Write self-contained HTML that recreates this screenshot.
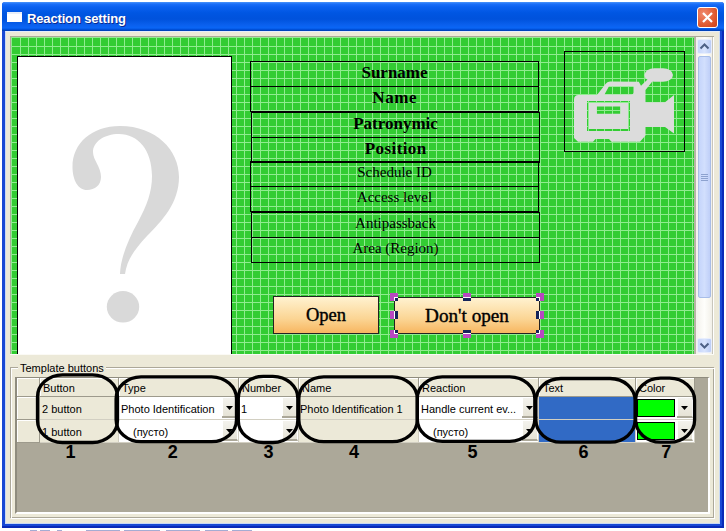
<!DOCTYPE html>
<html><head><meta charset="utf-8">
<style>
*{margin:0;padding:0;box-sizing:border-box}
html,body{width:726px;height:531px;overflow:hidden;background:#fff;position:relative;font-family:"Liberation Sans",sans-serif}
.a{position:absolute}
.ui{font-size:11px;color:#000;white-space:nowrap;line-height:13px}
.lb{font-family:"Liberation Serif",serif;font-weight:bold;font-size:17px;color:#000;white-space:nowrap;text-align:center;line-height:20px}
.lr{font-family:"Liberation Serif",serif;font-size:15px;color:#000;white-space:nowrap;text-align:center;line-height:18px}
.num{font-weight:bold;font-size:18px;color:#000;line-height:18px}
</style></head><body>

<!-- window frame -->
<div class="a" style="left:2px;top:2px;width:722px;height:526px;background:#1848d4;border-radius:3px 3px 0 0"></div>
<div class="a" style="left:722px;top:5px;width:2px;height:523px;background:#0a2ab8"></div>
<div class="a" style="left:2px;top:526px;width:722px;height:2px;background:#0a2ab8"></div>
<!-- title bar -->
<div class="a" style="left:2px;top:2px;width:722px;height:29px;border-radius:3px 3px 0 0;background:linear-gradient(#4a94fa 0px,#1a6ef8 2px,#0a60f0 5px,#0056e2 11px,#0052dc 17px,#0a60ee 23px,#0a66f6 26px,#0050d8 27.5px,#003cac 29px)"></div>
<!-- title icon -->
<div class="a" style="left:7px;top:12px;width:15px;height:10px;background:#fff;border-top:2px solid #e8eef8"></div>
<div class="a" style="left:27px;top:11px;font-weight:bold;font-size:13px;letter-spacing:-0.15px;color:#fff;line-height:16px;text-shadow:1px 1px 0 #0a2a90">Reaction setting</div>
<!-- close button -->
<div class="a" style="left:697px;top:7px;width:21px;height:21px;border:1px solid #fff;border-radius:3px;background:radial-gradient(circle at 30% 30%,#f08a70,#e05a30 60%,#c84018)"></div>
<svg class="a" style="left:697px;top:7px" width="21" height="21"><path d="M6 6L15 15M15 6L6 15" stroke="#fff" stroke-width="2.2"/></svg>

<!-- client area -->
<div class="a" style="left:5px;top:31px;width:715px;height:493px;background:#ece9d8;border:1px solid #c8d8f4;border-top-color:#e4ecfa"></div>

<!-- designer scroll box -->
<div class="a" style="left:10px;top:36px;width:704px;height:318px;border-top:1px solid #aca899;border-left:1px solid #aca899"></div>
<div class="a" style="left:11px;top:37px;width:683px;height:317px;background:#33cc33;border-top:1px solid #90ec90;border-left:1px solid #90ec90"></div>
<div class="a" style="left:13px;top:38px;width:681px;height:316px;background-image:linear-gradient(90deg,#90ec90 1px,transparent 1px);background-size:8px 8px;background-position:7px 0"></div>
<div class="a" style="left:12px;top:39px;width:682px;height:315px;background-image:linear-gradient(#90ec90 1px,transparent 1px);background-size:8px 8px;background-position:0 7px"></div>
<!-- photo -->
<div class="a" style="left:17px;top:56px;width:215px;height:298px;background:#fff;border:1px solid #000;border-bottom:none"></div>
<svg class="a" style="left:0;top:0" width="726" height="531">
<path fill="#d9d9d9" d="M72.5 167 C72.5 143, 92 126, 120 126 C156 126, 179 150, 179 177 C179 203, 162 221, 147 236 C134 250, 127 260, 125 274 L120 274 C120.5 258, 128 240, 138 222 C147 205, 152 192, 152 176 C152 150, 138 134, 119 134 C104 134, 93 142, 93 152 C93 160, 101 167, 101 177 C101 185, 95 190, 87 190 C78 190, 72.5 180, 72.5 167 Z"/>
<ellipse cx="123" cy="306.8" rx="16.2" ry="15.8" fill="#d9d9d9"/>
</svg>
<!-- label boxes -->
<div class="a" style="left:250px;top:61px;width:289px;height:51px;border:1px solid #000"></div>
<div class="a" style="left:250px;top:86px;width:289px;height:1px;background:#000"></div>
<div class="a" style="left:251px;top:112px;width:289px;height:51px;border:1px solid #000"></div>
<div class="a" style="left:251px;top:137px;width:289px;height:1px;background:#000"></div>
<div class="a" style="left:250px;top:161px;width:289px;height:51px;border:1px solid #000"></div>
<div class="a" style="left:250px;top:186px;width:289px;height:1px;background:#000"></div>
<div class="a" style="left:251px;top:212px;width:289px;height:51px;border:1px solid #000"></div>
<div class="a" style="left:251px;top:237px;width:289px;height:1px;background:#000"></div>

<div class="a lb" style="left:250px;top:63px;width:289px">Surname</div>
<div class="a lb" style="left:250px;top:88px;width:289px;letter-spacing:0.6px;text-indent:0.6px">Name</div>
<div class="a lb" style="left:251px;top:114px;width:289px">Patronymic</div>
<div class="a lb" style="left:251px;top:139px;width:289px;letter-spacing:0.4px;text-indent:0.4px">Position</div>
<div class="a lr" style="left:250px;top:163px;width:289px">Schedule ID</div>
<div class="a lr" style="left:250px;top:188px;width:289px">Access level</div>
<div class="a lr" style="left:251px;top:214px;width:289px">Antipassback</div>
<div class="a lr" style="left:251px;top:239px;width:289px">Area (Region)</div>

<!-- camera box -->
<div class="a" style="left:564px;top:51px;width:121px;height:101px;border:1px solid #000"></div>
<svg class="a" style="left:0;top:0" width="726" height="531">
  <path fill="#dcdcdc" fill-rule="evenodd" d="M578.5 95 L597 95 L605.5 84 Q607 81.5 610 81.5 L638.8 81.7 L641 85.8 L647 80 L652.3 80 L652.3 81.5 L646.3 89 L645.5 90 L645.5 102.3 L665 102.3 L674 95 L674 133.5 L665 127 L645.5 127 L645.5 135.5 L640 141.8 L611.5 141.8 L609 139 L595.5 139 L593 141.8 L578 141.8 L574 138 L574 99.5 Q574 95 578.5 95 Z
  M604.5 94.5 L609 86.3 L633.5 86.3 L633.5 92.5 Q633.5 94.5 631.5 94.5 Z
  M587 101 L630 101 L630 131 L587 131 Z M589 103 L589 129 L628 129 L628 103 Z
  M596.8 106.6 L620.4 106.6 L620.4 113.7 L596.8 113.7 Z"/>
  <rect x="644.4" y="68.2" width="28.6" height="13.6" rx="10" ry="6.8" fill="#dcdcdc"/>
</svg>

<!-- buttons -->
<div class="a" style="left:273px;top:296px;width:106px;height:38px;border:1px solid #222;background:linear-gradient(#fff2d0,#fbd594 60%,#f7b660)"></div>
<div class="a" style="left:273px;top:304px;width:106px;text-align:center;font-family:'Liberation Serif',serif;font-size:18.5px;-webkit-text-stroke:0.4px #000;line-height:22px">Open</div>
<div class="a" style="left:394px;top:297px;width:146px;height:37px;border:1px solid #222;background:linear-gradient(#fff2d0,#fbd594 60%,#f7b660)"></div>
<div class="a" style="left:394px;top:305px;width:146px;text-align:center;font-family:'Liberation Serif',serif;font-size:19.2px;-webkit-text-stroke:0.4px #000;line-height:22px">Don't open</div>

<!-- handles -->
<svg class="a" style="left:0;top:0" width="726" height="531">
<rect x="390" y="293" width="8" height="8" fill="#14245a"/>
<rect x="390" y="293" width="1" height="1" fill="#b848c0"/>
<rect x="390" y="294" width="1" height="1" fill="#b848c0"/>
<rect x="390" y="295" width="1" height="1" fill="#b848c0"/>
<rect x="390" y="296" width="1" height="1" fill="#b848c0"/>
<rect x="390" y="297" width="1" height="1" fill="#b848c0"/>
<rect x="390" y="298" width="1" height="1" fill="#b848c0"/>
<rect x="390" y="299" width="1" height="1" fill="#b848c0"/>
<rect x="390" y="300" width="1" height="1" fill="#b848c0"/>
<rect x="391" y="293" width="1" height="1" fill="#b848c0"/>
<rect x="391" y="294" width="1" height="1" fill="#b848c0"/>
<rect x="391" y="295" width="1" height="1" fill="#b848c0"/>
<rect x="391" y="296" width="1" height="1" fill="#b848c0"/>
<rect x="391" y="297" width="1" height="1" fill="#b848c0"/>
<rect x="391" y="298" width="1" height="1" fill="#b848c0"/>
<rect x="391" y="299" width="1" height="1" fill="#b848c0"/>
<rect x="391" y="300" width="1" height="1" fill="#b848c0"/>
<rect x="392" y="293" width="1" height="1" fill="#b848c0"/>
<rect x="392" y="294" width="1" height="1" fill="#b848c0"/>
<rect x="392" y="295" width="1" height="1" fill="#b848c0"/>
<rect x="392" y="296" width="1" height="1" fill="#b848c0"/>
<rect x="392" y="297" width="1" height="1" fill="#b848c0"/>
<rect x="392" y="298" width="1" height="1" fill="#b848c0"/>
<rect x="392" y="299" width="1" height="1" fill="#b848c0"/>
<rect x="392" y="300" width="1" height="1" fill="#b848c0"/>
<rect x="393" y="293" width="1" height="1" fill="#b848c0"/>
<rect x="393" y="294" width="1" height="1" fill="#b848c0"/>
<rect x="393" y="295" width="1" height="1" fill="#b848c0"/>
<rect x="393" y="296" width="1" height="1" fill="#b848c0"/>
<rect x="393" y="297" width="1" height="1" fill="#b848c0"/>
<rect x="393" y="298" width="1" height="1" fill="#b848c0"/>
<rect x="393" y="299" width="1" height="1" fill="#b848c0"/>
<rect x="393" y="300" width="1" height="1" fill="#b848c0"/>
<rect x="394" y="293" width="1" height="1" fill="#b848c0"/>
<rect x="394" y="294" width="1" height="1" fill="#b848c0"/>
<rect x="394" y="295" width="1" height="1" fill="#b848c0"/>
<rect x="394" y="296" width="1" height="1" fill="#b848c0"/>
<rect x="394" y="297" width="1" height="1" fill="#ffffff"/>
<rect x="394" y="298" width="1" height="1" fill="#ffffff"/>
<rect x="394" y="299" width="1" height="1" fill="#ffffff"/>
<rect x="394" y="300" width="1" height="1" fill="#ffffff"/>
<rect x="395" y="293" width="1" height="1" fill="#b848c0"/>
<rect x="395" y="294" width="1" height="1" fill="#b848c0"/>
<rect x="395" y="295" width="1" height="1" fill="#b848c0"/>
<rect x="395" y="296" width="1" height="1" fill="#b848c0"/>
<rect x="395" y="297" width="1" height="1" fill="#ffffff"/>
<rect x="396" y="293" width="1" height="1" fill="#b848c0"/>
<rect x="396" y="294" width="1" height="1" fill="#b848c0"/>
<rect x="396" y="295" width="1" height="1" fill="#b848c0"/>
<rect x="396" y="296" width="1" height="1" fill="#b848c0"/>
<rect x="396" y="297" width="1" height="1" fill="#ffffff"/>
<rect x="397" y="293" width="1" height="1" fill="#b848c0"/>
<rect x="397" y="294" width="1" height="1" fill="#b848c0"/>
<rect x="397" y="295" width="1" height="1" fill="#b848c0"/>
<rect x="397" y="296" width="1" height="1" fill="#b848c0"/>
<rect x="397" y="297" width="1" height="1" fill="#ffffff"/>
<rect x="390" y="311" width="8" height="8" fill="#14245a"/>
<rect x="390" y="311" width="1" height="1" fill="#b848c0"/>
<rect x="390" y="312" width="1" height="1" fill="#b848c0"/>
<rect x="390" y="313" width="1" height="1" fill="#b848c0"/>
<rect x="390" y="314" width="1" height="1" fill="#b848c0"/>
<rect x="390" y="315" width="1" height="1" fill="#b848c0"/>
<rect x="390" y="316" width="1" height="1" fill="#b848c0"/>
<rect x="390" y="317" width="1" height="1" fill="#b848c0"/>
<rect x="390" y="318" width="1" height="1" fill="#b848c0"/>
<rect x="391" y="311" width="1" height="1" fill="#b848c0"/>
<rect x="391" y="312" width="1" height="1" fill="#b848c0"/>
<rect x="391" y="313" width="1" height="1" fill="#b848c0"/>
<rect x="391" y="314" width="1" height="1" fill="#b848c0"/>
<rect x="391" y="315" width="1" height="1" fill="#b848c0"/>
<rect x="391" y="316" width="1" height="1" fill="#b848c0"/>
<rect x="391" y="317" width="1" height="1" fill="#b848c0"/>
<rect x="391" y="318" width="1" height="1" fill="#b848c0"/>
<rect x="392" y="311" width="1" height="1" fill="#b848c0"/>
<rect x="392" y="312" width="1" height="1" fill="#b848c0"/>
<rect x="392" y="313" width="1" height="1" fill="#b848c0"/>
<rect x="392" y="314" width="1" height="1" fill="#b848c0"/>
<rect x="392" y="315" width="1" height="1" fill="#b848c0"/>
<rect x="392" y="316" width="1" height="1" fill="#b848c0"/>
<rect x="392" y="317" width="1" height="1" fill="#b848c0"/>
<rect x="392" y="318" width="1" height="1" fill="#b848c0"/>
<rect x="393" y="311" width="1" height="1" fill="#b848c0"/>
<rect x="393" y="312" width="1" height="1" fill="#b848c0"/>
<rect x="393" y="313" width="1" height="1" fill="#b848c0"/>
<rect x="393" y="314" width="1" height="1" fill="#b848c0"/>
<rect x="393" y="315" width="1" height="1" fill="#b848c0"/>
<rect x="393" y="316" width="1" height="1" fill="#b848c0"/>
<rect x="393" y="317" width="1" height="1" fill="#b848c0"/>
<rect x="393" y="318" width="1" height="1" fill="#b848c0"/>
<rect x="394" y="311" width="1" height="1" fill="#ffffff"/>
<rect x="394" y="312" width="1" height="1" fill="#ffffff"/>
<rect x="394" y="313" width="1" height="1" fill="#ffffff"/>
<rect x="394" y="314" width="1" height="1" fill="#ffffff"/>
<rect x="394" y="315" width="1" height="1" fill="#ffffff"/>
<rect x="394" y="316" width="1" height="1" fill="#ffffff"/>
<rect x="394" y="317" width="1" height="1" fill="#ffffff"/>
<rect x="394" y="318" width="1" height="1" fill="#ffffff"/>
<rect x="390" y="330" width="8" height="8" fill="#14245a"/>
<rect x="390" y="330" width="1" height="1" fill="#b848c0"/>
<rect x="390" y="331" width="1" height="1" fill="#b848c0"/>
<rect x="390" y="332" width="1" height="1" fill="#b848c0"/>
<rect x="390" y="333" width="1" height="1" fill="#b848c0"/>
<rect x="390" y="334" width="1" height="1" fill="#b848c0"/>
<rect x="390" y="335" width="1" height="1" fill="#b848c0"/>
<rect x="390" y="336" width="1" height="1" fill="#b848c0"/>
<rect x="390" y="337" width="1" height="1" fill="#b848c0"/>
<rect x="391" y="330" width="1" height="1" fill="#b848c0"/>
<rect x="391" y="331" width="1" height="1" fill="#b848c0"/>
<rect x="391" y="332" width="1" height="1" fill="#b848c0"/>
<rect x="391" y="333" width="1" height="1" fill="#b848c0"/>
<rect x="391" y="334" width="1" height="1" fill="#b848c0"/>
<rect x="391" y="335" width="1" height="1" fill="#b848c0"/>
<rect x="391" y="336" width="1" height="1" fill="#b848c0"/>
<rect x="391" y="337" width="1" height="1" fill="#b848c0"/>
<rect x="392" y="330" width="1" height="1" fill="#b848c0"/>
<rect x="392" y="331" width="1" height="1" fill="#b848c0"/>
<rect x="392" y="332" width="1" height="1" fill="#b848c0"/>
<rect x="392" y="333" width="1" height="1" fill="#b848c0"/>
<rect x="392" y="334" width="1" height="1" fill="#b848c0"/>
<rect x="392" y="335" width="1" height="1" fill="#b848c0"/>
<rect x="392" y="336" width="1" height="1" fill="#b848c0"/>
<rect x="392" y="337" width="1" height="1" fill="#b848c0"/>
<rect x="393" y="330" width="1" height="1" fill="#b848c0"/>
<rect x="393" y="331" width="1" height="1" fill="#b848c0"/>
<rect x="393" y="332" width="1" height="1" fill="#b848c0"/>
<rect x="393" y="333" width="1" height="1" fill="#b848c0"/>
<rect x="393" y="334" width="1" height="1" fill="#b848c0"/>
<rect x="393" y="335" width="1" height="1" fill="#b848c0"/>
<rect x="393" y="336" width="1" height="1" fill="#b848c0"/>
<rect x="393" y="337" width="1" height="1" fill="#b848c0"/>
<rect x="394" y="330" width="1" height="1" fill="#ffffff"/>
<rect x="394" y="331" width="1" height="1" fill="#ffffff"/>
<rect x="394" y="332" width="1" height="1" fill="#ffffff"/>
<rect x="394" y="333" width="1" height="1" fill="#ffffff"/>
<rect x="394" y="334" width="1" height="1" fill="#b848c0"/>
<rect x="394" y="335" width="1" height="1" fill="#b848c0"/>
<rect x="394" y="336" width="1" height="1" fill="#b848c0"/>
<rect x="394" y="337" width="1" height="1" fill="#b848c0"/>
<rect x="395" y="333" width="1" height="1" fill="#ffffff"/>
<rect x="395" y="334" width="1" height="1" fill="#b848c0"/>
<rect x="395" y="335" width="1" height="1" fill="#b848c0"/>
<rect x="395" y="336" width="1" height="1" fill="#b848c0"/>
<rect x="395" y="337" width="1" height="1" fill="#b848c0"/>
<rect x="396" y="333" width="1" height="1" fill="#ffffff"/>
<rect x="396" y="334" width="1" height="1" fill="#b848c0"/>
<rect x="396" y="335" width="1" height="1" fill="#b848c0"/>
<rect x="396" y="336" width="1" height="1" fill="#b848c0"/>
<rect x="396" y="337" width="1" height="1" fill="#b848c0"/>
<rect x="397" y="333" width="1" height="1" fill="#ffffff"/>
<rect x="397" y="334" width="1" height="1" fill="#b848c0"/>
<rect x="397" y="335" width="1" height="1" fill="#b848c0"/>
<rect x="397" y="336" width="1" height="1" fill="#b848c0"/>
<rect x="397" y="337" width="1" height="1" fill="#b848c0"/>
<rect x="463" y="293" width="8" height="8" fill="#14245a"/>
<rect x="463" y="293" width="1" height="1" fill="#b848c0"/>
<rect x="463" y="294" width="1" height="1" fill="#b848c0"/>
<rect x="463" y="295" width="1" height="1" fill="#b848c0"/>
<rect x="463" y="296" width="1" height="1" fill="#b848c0"/>
<rect x="463" y="297" width="1" height="1" fill="#ffffff"/>
<rect x="464" y="293" width="1" height="1" fill="#b848c0"/>
<rect x="464" y="294" width="1" height="1" fill="#b848c0"/>
<rect x="464" y="295" width="1" height="1" fill="#b848c0"/>
<rect x="464" y="296" width="1" height="1" fill="#b848c0"/>
<rect x="464" y="297" width="1" height="1" fill="#ffffff"/>
<rect x="465" y="293" width="1" height="1" fill="#b848c0"/>
<rect x="465" y="294" width="1" height="1" fill="#b848c0"/>
<rect x="465" y="295" width="1" height="1" fill="#b848c0"/>
<rect x="465" y="296" width="1" height="1" fill="#b848c0"/>
<rect x="465" y="297" width="1" height="1" fill="#ffffff"/>
<rect x="466" y="293" width="1" height="1" fill="#b848c0"/>
<rect x="466" y="294" width="1" height="1" fill="#b848c0"/>
<rect x="466" y="295" width="1" height="1" fill="#b848c0"/>
<rect x="466" y="296" width="1" height="1" fill="#b848c0"/>
<rect x="466" y="297" width="1" height="1" fill="#ffffff"/>
<rect x="467" y="293" width="1" height="1" fill="#b848c0"/>
<rect x="467" y="294" width="1" height="1" fill="#b848c0"/>
<rect x="467" y="295" width="1" height="1" fill="#b848c0"/>
<rect x="467" y="296" width="1" height="1" fill="#b848c0"/>
<rect x="467" y="297" width="1" height="1" fill="#ffffff"/>
<rect x="468" y="293" width="1" height="1" fill="#b848c0"/>
<rect x="468" y="294" width="1" height="1" fill="#b848c0"/>
<rect x="468" y="295" width="1" height="1" fill="#b848c0"/>
<rect x="468" y="296" width="1" height="1" fill="#b848c0"/>
<rect x="468" y="297" width="1" height="1" fill="#ffffff"/>
<rect x="469" y="293" width="1" height="1" fill="#b848c0"/>
<rect x="469" y="294" width="1" height="1" fill="#b848c0"/>
<rect x="469" y="295" width="1" height="1" fill="#b848c0"/>
<rect x="469" y="296" width="1" height="1" fill="#b848c0"/>
<rect x="469" y="297" width="1" height="1" fill="#ffffff"/>
<rect x="470" y="293" width="1" height="1" fill="#b848c0"/>
<rect x="470" y="294" width="1" height="1" fill="#b848c0"/>
<rect x="470" y="295" width="1" height="1" fill="#b848c0"/>
<rect x="470" y="296" width="1" height="1" fill="#b848c0"/>
<rect x="470" y="297" width="1" height="1" fill="#ffffff"/>
<rect x="463" y="330" width="8" height="8" fill="#14245a"/>
<rect x="463" y="333" width="1" height="1" fill="#ffffff"/>
<rect x="463" y="334" width="1" height="1" fill="#b848c0"/>
<rect x="463" y="335" width="1" height="1" fill="#b848c0"/>
<rect x="463" y="336" width="1" height="1" fill="#b848c0"/>
<rect x="463" y="337" width="1" height="1" fill="#b848c0"/>
<rect x="464" y="333" width="1" height="1" fill="#ffffff"/>
<rect x="464" y="334" width="1" height="1" fill="#b848c0"/>
<rect x="464" y="335" width="1" height="1" fill="#b848c0"/>
<rect x="464" y="336" width="1" height="1" fill="#b848c0"/>
<rect x="464" y="337" width="1" height="1" fill="#b848c0"/>
<rect x="465" y="333" width="1" height="1" fill="#ffffff"/>
<rect x="465" y="334" width="1" height="1" fill="#b848c0"/>
<rect x="465" y="335" width="1" height="1" fill="#b848c0"/>
<rect x="465" y="336" width="1" height="1" fill="#b848c0"/>
<rect x="465" y="337" width="1" height="1" fill="#b848c0"/>
<rect x="466" y="333" width="1" height="1" fill="#ffffff"/>
<rect x="466" y="334" width="1" height="1" fill="#b848c0"/>
<rect x="466" y="335" width="1" height="1" fill="#b848c0"/>
<rect x="466" y="336" width="1" height="1" fill="#b848c0"/>
<rect x="466" y="337" width="1" height="1" fill="#b848c0"/>
<rect x="467" y="333" width="1" height="1" fill="#ffffff"/>
<rect x="467" y="334" width="1" height="1" fill="#b848c0"/>
<rect x="467" y="335" width="1" height="1" fill="#b848c0"/>
<rect x="467" y="336" width="1" height="1" fill="#b848c0"/>
<rect x="467" y="337" width="1" height="1" fill="#b848c0"/>
<rect x="468" y="333" width="1" height="1" fill="#ffffff"/>
<rect x="468" y="334" width="1" height="1" fill="#b848c0"/>
<rect x="468" y="335" width="1" height="1" fill="#b848c0"/>
<rect x="468" y="336" width="1" height="1" fill="#b848c0"/>
<rect x="468" y="337" width="1" height="1" fill="#b848c0"/>
<rect x="469" y="333" width="1" height="1" fill="#ffffff"/>
<rect x="469" y="334" width="1" height="1" fill="#b848c0"/>
<rect x="469" y="335" width="1" height="1" fill="#b848c0"/>
<rect x="469" y="336" width="1" height="1" fill="#b848c0"/>
<rect x="469" y="337" width="1" height="1" fill="#b848c0"/>
<rect x="470" y="333" width="1" height="1" fill="#ffffff"/>
<rect x="470" y="334" width="1" height="1" fill="#b848c0"/>
<rect x="470" y="335" width="1" height="1" fill="#b848c0"/>
<rect x="470" y="336" width="1" height="1" fill="#b848c0"/>
<rect x="470" y="337" width="1" height="1" fill="#b848c0"/>
<rect x="536" y="293" width="8" height="8" fill="#14245a"/>
<rect x="536" y="293" width="1" height="1" fill="#b848c0"/>
<rect x="536" y="294" width="1" height="1" fill="#b848c0"/>
<rect x="536" y="295" width="1" height="1" fill="#b848c0"/>
<rect x="536" y="296" width="1" height="1" fill="#b848c0"/>
<rect x="536" y="297" width="1" height="1" fill="#ffffff"/>
<rect x="537" y="293" width="1" height="1" fill="#b848c0"/>
<rect x="537" y="294" width="1" height="1" fill="#b848c0"/>
<rect x="537" y="295" width="1" height="1" fill="#b848c0"/>
<rect x="537" y="296" width="1" height="1" fill="#b848c0"/>
<rect x="537" y="297" width="1" height="1" fill="#ffffff"/>
<rect x="538" y="293" width="1" height="1" fill="#b848c0"/>
<rect x="538" y="294" width="1" height="1" fill="#b848c0"/>
<rect x="538" y="295" width="1" height="1" fill="#b848c0"/>
<rect x="538" y="296" width="1" height="1" fill="#b848c0"/>
<rect x="538" y="297" width="1" height="1" fill="#ffffff"/>
<rect x="539" y="293" width="1" height="1" fill="#b848c0"/>
<rect x="539" y="294" width="1" height="1" fill="#b848c0"/>
<rect x="539" y="295" width="1" height="1" fill="#b848c0"/>
<rect x="539" y="296" width="1" height="1" fill="#b848c0"/>
<rect x="539" y="297" width="1" height="1" fill="#ffffff"/>
<rect x="539" y="298" width="1" height="1" fill="#ffffff"/>
<rect x="539" y="299" width="1" height="1" fill="#ffffff"/>
<rect x="539" y="300" width="1" height="1" fill="#ffffff"/>
<rect x="540" y="293" width="1" height="1" fill="#b848c0"/>
<rect x="540" y="294" width="1" height="1" fill="#b848c0"/>
<rect x="540" y="295" width="1" height="1" fill="#b848c0"/>
<rect x="540" y="296" width="1" height="1" fill="#b848c0"/>
<rect x="540" y="297" width="1" height="1" fill="#b848c0"/>
<rect x="540" y="298" width="1" height="1" fill="#b848c0"/>
<rect x="540" y="299" width="1" height="1" fill="#b848c0"/>
<rect x="540" y="300" width="1" height="1" fill="#b848c0"/>
<rect x="541" y="293" width="1" height="1" fill="#b848c0"/>
<rect x="541" y="294" width="1" height="1" fill="#b848c0"/>
<rect x="541" y="295" width="1" height="1" fill="#b848c0"/>
<rect x="541" y="296" width="1" height="1" fill="#b848c0"/>
<rect x="541" y="297" width="1" height="1" fill="#b848c0"/>
<rect x="541" y="298" width="1" height="1" fill="#b848c0"/>
<rect x="541" y="299" width="1" height="1" fill="#b848c0"/>
<rect x="541" y="300" width="1" height="1" fill="#b848c0"/>
<rect x="542" y="293" width="1" height="1" fill="#b848c0"/>
<rect x="542" y="294" width="1" height="1" fill="#b848c0"/>
<rect x="542" y="295" width="1" height="1" fill="#b848c0"/>
<rect x="542" y="296" width="1" height="1" fill="#b848c0"/>
<rect x="542" y="297" width="1" height="1" fill="#b848c0"/>
<rect x="542" y="298" width="1" height="1" fill="#b848c0"/>
<rect x="542" y="299" width="1" height="1" fill="#b848c0"/>
<rect x="542" y="300" width="1" height="1" fill="#b848c0"/>
<rect x="543" y="293" width="1" height="1" fill="#b848c0"/>
<rect x="543" y="294" width="1" height="1" fill="#b848c0"/>
<rect x="543" y="295" width="1" height="1" fill="#b848c0"/>
<rect x="543" y="296" width="1" height="1" fill="#b848c0"/>
<rect x="543" y="297" width="1" height="1" fill="#b848c0"/>
<rect x="543" y="298" width="1" height="1" fill="#b848c0"/>
<rect x="543" y="299" width="1" height="1" fill="#b848c0"/>
<rect x="543" y="300" width="1" height="1" fill="#b848c0"/>
<rect x="536" y="311" width="8" height="8" fill="#14245a"/>
<rect x="539" y="311" width="1" height="1" fill="#ffffff"/>
<rect x="539" y="312" width="1" height="1" fill="#ffffff"/>
<rect x="539" y="313" width="1" height="1" fill="#ffffff"/>
<rect x="539" y="314" width="1" height="1" fill="#ffffff"/>
<rect x="539" y="315" width="1" height="1" fill="#ffffff"/>
<rect x="539" y="316" width="1" height="1" fill="#ffffff"/>
<rect x="539" y="317" width="1" height="1" fill="#ffffff"/>
<rect x="539" y="318" width="1" height="1" fill="#ffffff"/>
<rect x="540" y="311" width="1" height="1" fill="#b848c0"/>
<rect x="540" y="312" width="1" height="1" fill="#b848c0"/>
<rect x="540" y="313" width="1" height="1" fill="#b848c0"/>
<rect x="540" y="314" width="1" height="1" fill="#b848c0"/>
<rect x="540" y="315" width="1" height="1" fill="#b848c0"/>
<rect x="540" y="316" width="1" height="1" fill="#b848c0"/>
<rect x="540" y="317" width="1" height="1" fill="#b848c0"/>
<rect x="540" y="318" width="1" height="1" fill="#b848c0"/>
<rect x="541" y="311" width="1" height="1" fill="#b848c0"/>
<rect x="541" y="312" width="1" height="1" fill="#b848c0"/>
<rect x="541" y="313" width="1" height="1" fill="#b848c0"/>
<rect x="541" y="314" width="1" height="1" fill="#b848c0"/>
<rect x="541" y="315" width="1" height="1" fill="#b848c0"/>
<rect x="541" y="316" width="1" height="1" fill="#b848c0"/>
<rect x="541" y="317" width="1" height="1" fill="#b848c0"/>
<rect x="541" y="318" width="1" height="1" fill="#b848c0"/>
<rect x="542" y="311" width="1" height="1" fill="#b848c0"/>
<rect x="542" y="312" width="1" height="1" fill="#b848c0"/>
<rect x="542" y="313" width="1" height="1" fill="#b848c0"/>
<rect x="542" y="314" width="1" height="1" fill="#b848c0"/>
<rect x="542" y="315" width="1" height="1" fill="#b848c0"/>
<rect x="542" y="316" width="1" height="1" fill="#b848c0"/>
<rect x="542" y="317" width="1" height="1" fill="#b848c0"/>
<rect x="542" y="318" width="1" height="1" fill="#b848c0"/>
<rect x="543" y="311" width="1" height="1" fill="#b848c0"/>
<rect x="543" y="312" width="1" height="1" fill="#b848c0"/>
<rect x="543" y="313" width="1" height="1" fill="#b848c0"/>
<rect x="543" y="314" width="1" height="1" fill="#b848c0"/>
<rect x="543" y="315" width="1" height="1" fill="#b848c0"/>
<rect x="543" y="316" width="1" height="1" fill="#b848c0"/>
<rect x="543" y="317" width="1" height="1" fill="#b848c0"/>
<rect x="543" y="318" width="1" height="1" fill="#b848c0"/>
<rect x="536" y="330" width="8" height="8" fill="#14245a"/>
<rect x="536" y="333" width="1" height="1" fill="#ffffff"/>
<rect x="536" y="334" width="1" height="1" fill="#b848c0"/>
<rect x="536" y="335" width="1" height="1" fill="#b848c0"/>
<rect x="536" y="336" width="1" height="1" fill="#b848c0"/>
<rect x="536" y="337" width="1" height="1" fill="#b848c0"/>
<rect x="537" y="333" width="1" height="1" fill="#ffffff"/>
<rect x="537" y="334" width="1" height="1" fill="#b848c0"/>
<rect x="537" y="335" width="1" height="1" fill="#b848c0"/>
<rect x="537" y="336" width="1" height="1" fill="#b848c0"/>
<rect x="537" y="337" width="1" height="1" fill="#b848c0"/>
<rect x="538" y="333" width="1" height="1" fill="#ffffff"/>
<rect x="538" y="334" width="1" height="1" fill="#b848c0"/>
<rect x="538" y="335" width="1" height="1" fill="#b848c0"/>
<rect x="538" y="336" width="1" height="1" fill="#b848c0"/>
<rect x="538" y="337" width="1" height="1" fill="#b848c0"/>
<rect x="539" y="330" width="1" height="1" fill="#ffffff"/>
<rect x="539" y="331" width="1" height="1" fill="#ffffff"/>
<rect x="539" y="332" width="1" height="1" fill="#ffffff"/>
<rect x="539" y="333" width="1" height="1" fill="#ffffff"/>
<rect x="539" y="334" width="1" height="1" fill="#b848c0"/>
<rect x="539" y="335" width="1" height="1" fill="#b848c0"/>
<rect x="539" y="336" width="1" height="1" fill="#b848c0"/>
<rect x="539" y="337" width="1" height="1" fill="#b848c0"/>
<rect x="540" y="330" width="1" height="1" fill="#b848c0"/>
<rect x="540" y="331" width="1" height="1" fill="#b848c0"/>
<rect x="540" y="332" width="1" height="1" fill="#b848c0"/>
<rect x="540" y="333" width="1" height="1" fill="#b848c0"/>
<rect x="540" y="334" width="1" height="1" fill="#b848c0"/>
<rect x="540" y="335" width="1" height="1" fill="#b848c0"/>
<rect x="540" y="336" width="1" height="1" fill="#b848c0"/>
<rect x="540" y="337" width="1" height="1" fill="#b848c0"/>
<rect x="541" y="330" width="1" height="1" fill="#b848c0"/>
<rect x="541" y="331" width="1" height="1" fill="#b848c0"/>
<rect x="541" y="332" width="1" height="1" fill="#b848c0"/>
<rect x="541" y="333" width="1" height="1" fill="#b848c0"/>
<rect x="541" y="334" width="1" height="1" fill="#b848c0"/>
<rect x="541" y="335" width="1" height="1" fill="#b848c0"/>
<rect x="541" y="336" width="1" height="1" fill="#b848c0"/>
<rect x="541" y="337" width="1" height="1" fill="#b848c0"/>
<rect x="542" y="330" width="1" height="1" fill="#b848c0"/>
<rect x="542" y="331" width="1" height="1" fill="#b848c0"/>
<rect x="542" y="332" width="1" height="1" fill="#b848c0"/>
<rect x="542" y="333" width="1" height="1" fill="#b848c0"/>
<rect x="542" y="334" width="1" height="1" fill="#b848c0"/>
<rect x="542" y="335" width="1" height="1" fill="#b848c0"/>
<rect x="542" y="336" width="1" height="1" fill="#b848c0"/>
<rect x="542" y="337" width="1" height="1" fill="#b848c0"/>
<rect x="543" y="330" width="1" height="1" fill="#b848c0"/>
<rect x="543" y="331" width="1" height="1" fill="#b848c0"/>
<rect x="543" y="332" width="1" height="1" fill="#b848c0"/>
<rect x="543" y="333" width="1" height="1" fill="#b848c0"/>
<rect x="543" y="334" width="1" height="1" fill="#b848c0"/>
<rect x="543" y="335" width="1" height="1" fill="#b848c0"/>
<rect x="543" y="336" width="1" height="1" fill="#b848c0"/>
<rect x="543" y="337" width="1" height="1" fill="#b848c0"/>
</svg>
<!-- scrollbar -->
<div class="a" style="left:694px;top:37px;width:2px;height:317px;background:#b8b4a6"></div>
<div class="a" style="left:696px;top:37px;width:17px;height:317px;background:linear-gradient(90deg,#f3f1ec,#fefefb 50%,#f0eee6)"></div>
<div class="a" style="left:712px;top:37px;width:1px;height:317px;background:#c8c6bc"></div><div class="a" style="left:713px;top:37px;width:1px;height:317px;background:#fff"></div>
<div class="a" style="left:697px;top:39px;width:15px;height:15px;border-radius:2px;background:linear-gradient(90deg,#c7d6fb,#d8e4fd 50%,#bccdf6);border:1px solid #e8eefc"></div>
<svg class="a" style="left:697px;top:39px" width="15" height="15"><path d="M3.5 9.5L7.5 5.5L11.5 9.5" fill="none" stroke="#4d6185" stroke-width="2"/></svg>
<div class="a" style="left:697px;top:338px;width:15px;height:15px;border-radius:2px;background:linear-gradient(90deg,#c7d6fb,#d8e4fd 50%,#bccdf6);border:1px solid #e8eefc"></div>
<svg class="a" style="left:697px;top:338px" width="15" height="15"><path d="M3.5 5.5L7.5 9.5L11.5 5.5" fill="none" stroke="#4d6185" stroke-width="2"/></svg>
<div class="a" style="left:698px;top:56px;width:13px;height:242px;border-radius:2px;background:linear-gradient(90deg,#c5d5fb,#d2dffd 50%,#bfcff8);border:1px solid #a8bde8"></div>
<svg class="a" style="left:698px;top:172px" width="13" height="10"><path d="M3 2.5H10M3 4.5H10M3 6.5H10M3 8.5H10" stroke="#8da2cf" stroke-width="1"/></svg>

<div class="a" style="left:10px;top:354px;width:704px;height:1px;background:#fbfaf5"></div>
<!-- groupbox -->
<div class="a" style="left:10px;top:367px;width:704px;height:151px;border-top:1px solid #aca899;border-left:1px solid #aca899;border-right:1px solid #aca899;border-bottom:1px solid #aca899"></div>
<div class="a" style="left:11px;top:368px;width:704px;height:151px;border-top:1px solid #fff;border-left:1px solid #fff;border-right:1px solid #fff;border-bottom:1px solid #fff"></div>
<div class="a" style="left:11px;top:368px;width:702px;height:149px;border-top:1px solid #fff;border-left:1px solid #fff"></div>
<div class="a ui" style="left:18px;top:362px;padding:0 2px;background:#ece9d8;height:12px">Template buttons</div>

<!-- string grid -->
<div class="a" style="left:15px;top:377px;width:695px;height:137px;background:#aca899;border-top:1px solid #8f8c7e;border-left:2px solid #8f8c7e;border-right:2px solid #fff;border-bottom:2px solid #fff"></div>
<svg class="a" style="left:0;top:0" width="726" height="531"><g fill="#3848a0" opacity="0.45"><rect x="30" y="530" width="7" height="1"/><rect x="40" y="530" width="10" height="1"/><rect x="57" y="530" width="5" height="1"/><rect x="86" y="530" width="34" height="1"/><rect x="124" y="530" width="36" height="1"/><rect x="166" y="530" width="34" height="1"/><rect x="205" y="530" width="23" height="1"/><rect x="232" y="530" width="20" height="1"/></g></svg>
<!-- grid cells -->
<div class="a" style="left:17px;top:378px;width:23px;height:19px;background:#ece9d8;border-right:1px solid #9d9a8c;border-bottom:1px solid #9d9a8c;box-shadow:inset 1px 1px 0 #fff"></div>
<div class="a" style="left:40px;top:378px;width:79px;height:19px;background:#ece9d8;border-right:1px solid #9d9a8c;border-bottom:1px solid #9d9a8c;box-shadow:inset 1px 1px 0 #fff"></div>
<div class="a" style="left:119px;top:378px;width:120px;height:19px;background:#ece9d8;border-right:1px solid #9d9a8c;border-bottom:1px solid #9d9a8c;box-shadow:inset 1px 1px 0 #fff"></div>
<div class="a" style="left:239px;top:378px;width:60px;height:19px;background:#ece9d8;border-right:1px solid #9d9a8c;border-bottom:1px solid #9d9a8c;box-shadow:inset 1px 1px 0 #fff"></div>
<div class="a" style="left:299px;top:378px;width:120px;height:19px;background:#ece9d8;border-right:1px solid #9d9a8c;border-bottom:1px solid #9d9a8c;box-shadow:inset 1px 1px 0 #fff"></div>
<div class="a" style="left:419px;top:378px;width:120px;height:19px;background:#ece9d8;border-right:1px solid #9d9a8c;border-bottom:1px solid #9d9a8c;box-shadow:inset 1px 1px 0 #fff"></div>
<div class="a" style="left:539px;top:378px;width:97px;height:19px;background:#ece9d8;border-right:1px solid #9d9a8c;border-bottom:1px solid #9d9a8c;box-shadow:inset 1px 1px 0 #fff"></div>
<div class="a" style="left:636px;top:378px;width:59px;height:19px;background:#ece9d8;border-right:1px solid #9d9a8c;border-bottom:1px solid #9d9a8c;box-shadow:inset 1px 1px 0 #fff"></div>
<div class="a" style="left:17px;top:397px;width:23px;height:23px;background:#ece9d8;border-right:1px solid #9d9a8c;border-bottom:1px solid #9d9a8c;box-shadow:inset 1px 1px 0 #fff"></div>
<div class="a" style="left:17px;top:420px;width:23px;height:23px;background:#ece9d8;border-right:1px solid #9d9a8c;border-bottom:1px solid #9d9a8c;box-shadow:inset 1px 1px 0 #fff"></div>
<div class="a" style="left:40px;top:397px;width:79px;height:23px;background:#ece9d8;border-right:1px solid #d2cfc2;border-bottom:1px solid #d2cfc2"></div>
<div class="a" style="left:119px;top:397px;width:120px;height:23px;background:#fff;border-right:1px solid #d2cfc2;border-bottom:1px solid #d2cfc2"></div>
<div class="a" style="left:239px;top:397px;width:60px;height:23px;background:#fff;border-right:1px solid #d2cfc2;border-bottom:1px solid #d2cfc2"></div>
<div class="a" style="left:299px;top:397px;width:120px;height:23px;background:#ece9d8;border-right:1px solid #d2cfc2;border-bottom:1px solid #d2cfc2"></div>
<div class="a" style="left:419px;top:397px;width:120px;height:23px;background:#fff;border-right:1px solid #d2cfc2;border-bottom:1px solid #d2cfc2"></div>
<div class="a" style="left:539px;top:397px;width:97px;height:23px;background:#316ac5;border-right:1px solid #d2cfc2;border-bottom:1px solid #d2cfc2"></div>
<div class="a" style="left:636px;top:397px;width:59px;height:23px;background:#fff;border-right:1px solid #d2cfc2;border-bottom:1px solid #d2cfc2"></div>
<div class="a" style="left:40px;top:420px;width:79px;height:23px;background:#ece9d8;border-right:1px solid #d2cfc2;border-bottom:1px solid #d2cfc2"></div>
<div class="a" style="left:119px;top:420px;width:120px;height:23px;background:#fff;border-right:1px solid #d2cfc2;border-bottom:1px solid #d2cfc2"></div>
<div class="a" style="left:239px;top:420px;width:60px;height:23px;background:#fff;border-right:1px solid #d2cfc2;border-bottom:1px solid #d2cfc2"></div>
<div class="a" style="left:299px;top:420px;width:120px;height:23px;background:#ece9d8;border-right:1px solid #d2cfc2;border-bottom:1px solid #d2cfc2"></div>
<div class="a" style="left:419px;top:420px;width:120px;height:23px;background:#fff;border-right:1px solid #d2cfc2;border-bottom:1px solid #d2cfc2"></div>
<div class="a" style="left:539px;top:420px;width:97px;height:23px;background:#316ac5;border-right:1px solid #d2cfc2;border-bottom:1px solid #d2cfc2"></div>
<div class="a" style="left:636px;top:420px;width:59px;height:23px;background:#fff;border-right:1px solid #d2cfc2;border-bottom:1px solid #d2cfc2"></div>
<div class="a" style="left:222px;top:397px;width:16px;height:21px;background:linear-gradient(#f4f3ee,#e6e3d6);border-right:1px solid #fff;border-bottom:2px solid #aca899;box-shadow:inset 1px 1px 0 #fff"></div><svg class="a" style="left:222px;top:397px" width="16" height="21"><path d="M4 9H11L7.5 13Z" fill="#000"/></svg>
<div class="a" style="left:282px;top:397px;width:16px;height:21px;background:linear-gradient(#f4f3ee,#e6e3d6);border-right:1px solid #fff;border-bottom:2px solid #aca899;box-shadow:inset 1px 1px 0 #fff"></div><svg class="a" style="left:282px;top:397px" width="16" height="21"><path d="M4 9H11L7.5 13Z" fill="#000"/></svg>
<div class="a" style="left:522px;top:397px;width:16px;height:21px;background:linear-gradient(#f4f3ee,#e6e3d6);border-right:1px solid #fff;border-bottom:2px solid #aca899;box-shadow:inset 1px 1px 0 #fff"></div><svg class="a" style="left:522px;top:397px" width="16" height="21"><path d="M4 9H11L7.5 13Z" fill="#000"/></svg>
<div class="a" style="left:677px;top:397px;width:16px;height:21px;background:linear-gradient(#f4f3ee,#e6e3d6);border-right:1px solid #fff;border-bottom:2px solid #aca899;box-shadow:inset 1px 1px 0 #fff"></div><svg class="a" style="left:677px;top:397px" width="16" height="21"><path d="M4 9H11L7.5 13Z" fill="#000"/></svg>
<div class="a" style="left:222px;top:420px;width:16px;height:21px;background:linear-gradient(#f4f3ee,#e6e3d6);border-right:1px solid #fff;border-bottom:2px solid #aca899;box-shadow:inset 1px 1px 0 #fff"></div><svg class="a" style="left:222px;top:420px" width="16" height="21"><path d="M4 9H11L7.5 13Z" fill="#000"/></svg>
<div class="a" style="left:282px;top:420px;width:16px;height:21px;background:linear-gradient(#f4f3ee,#e6e3d6);border-right:1px solid #fff;border-bottom:2px solid #aca899;box-shadow:inset 1px 1px 0 #fff"></div><svg class="a" style="left:282px;top:420px" width="16" height="21"><path d="M4 9H11L7.5 13Z" fill="#000"/></svg>
<div class="a" style="left:522px;top:420px;width:16px;height:21px;background:linear-gradient(#f4f3ee,#e6e3d6);border-right:1px solid #fff;border-bottom:2px solid #aca899;box-shadow:inset 1px 1px 0 #fff"></div><svg class="a" style="left:522px;top:420px" width="16" height="21"><path d="M4 9H11L7.5 13Z" fill="#000"/></svg>
<div class="a" style="left:677px;top:420px;width:16px;height:21px;background:linear-gradient(#f4f3ee,#e6e3d6);border-right:1px solid #fff;border-bottom:2px solid #aca899;box-shadow:inset 1px 1px 0 #fff"></div><svg class="a" style="left:677px;top:420px" width="16" height="21"><path d="M4 9H11L7.5 13Z" fill="#000"/></svg>
<div class="a" style="left:637px;top:399px;width:38px;height:18px;background:#00ff00;border:1px solid #000"></div>
<div class="a" style="left:637px;top:422px;width:38px;height:18px;background:#00ff00;border:1px solid #000"></div>
<div class="a ui" style="left:43px;top:382px">Button</div>
<div class="a ui" style="left:122px;top:382px">Type</div>
<div class="a ui" style="left:242px;top:382px">Number</div>
<div class="a ui" style="left:302px;top:382px">Name</div>
<div class="a ui" style="left:422px;top:382px">Reaction</div>
<div class="a ui" style="left:543px;top:382px">Text</div>
<div class="a ui" style="left:639px;top:382px">Color</div>
<div class="a ui" style="left:42px;top:403px">2 button</div>
<div class="a ui" style="left:42px;top:426px">1 button</div>
<div class="a ui" style="left:121px;top:403px">Photo Identification</div>
<div class="a ui" style="left:133px;top:426px">(пусто)</div>
<div class="a ui" style="left:241px;top:403px">1</div>
<div class="a ui" style="left:300px;top:403px">Photo Identification 1</div>
<div class="a ui" style="left:421px;top:403px">Handle current ev...</div>
<div class="a ui" style="left:433px;top:426px">(пусто)</div>
<svg class="a" style="left:0;top:0" width="726" height="531"><rect x="37.5" y="374.8" width="80.0" height="67.7" rx="25.0" ry="22.0" fill="none" stroke="#000" stroke-width="3.3"/><rect x="116.1" y="376.8" width="120.4" height="64.9" rx="25.0" ry="22.0" fill="none" stroke="#000" stroke-width="3.3"/><rect x="238.3" y="376.3" width="59.5" height="66.2" rx="25.0" ry="22.0" fill="none" stroke="#000" stroke-width="3.3"/><rect x="298.8" y="376.8" width="118.5" height="64.9" rx="25.0" ry="22.0" fill="none" stroke="#000" stroke-width="3.3"/><rect x="417.3" y="376.8" width="117.5" height="64.5" rx="25.0" ry="22.0" fill="none" stroke="#000" stroke-width="3.3"/><rect x="535.9" y="378.5" width="99.2" height="63.6" rx="25.0" ry="22.0" fill="none" stroke="#000" stroke-width="3.3"/><rect x="635.6" y="378.2" width="59.0" height="63.9" rx="25.0" ry="22.0" fill="none" stroke="#000" stroke-width="3.3"/></svg>
<div class="a num" style="left:50.5px;top:443px;width:40px;text-align:center">1</div>
<div class="a num" style="left:152.7px;top:443px;width:40px;text-align:center">2</div>
<div class="a num" style="left:248.6px;top:443px;width:40px;text-align:center">3</div>
<div class="a num" style="left:334.0px;top:443px;width:40px;text-align:center">4</div>
<div class="a num" style="left:452.5px;top:443px;width:40px;text-align:center">5</div>
<div class="a num" style="left:563.5px;top:443px;width:40px;text-align:center">6</div>
<div class="a num" style="left:646.3px;top:443px;width:40px;text-align:center">7</div>
</body></html>
